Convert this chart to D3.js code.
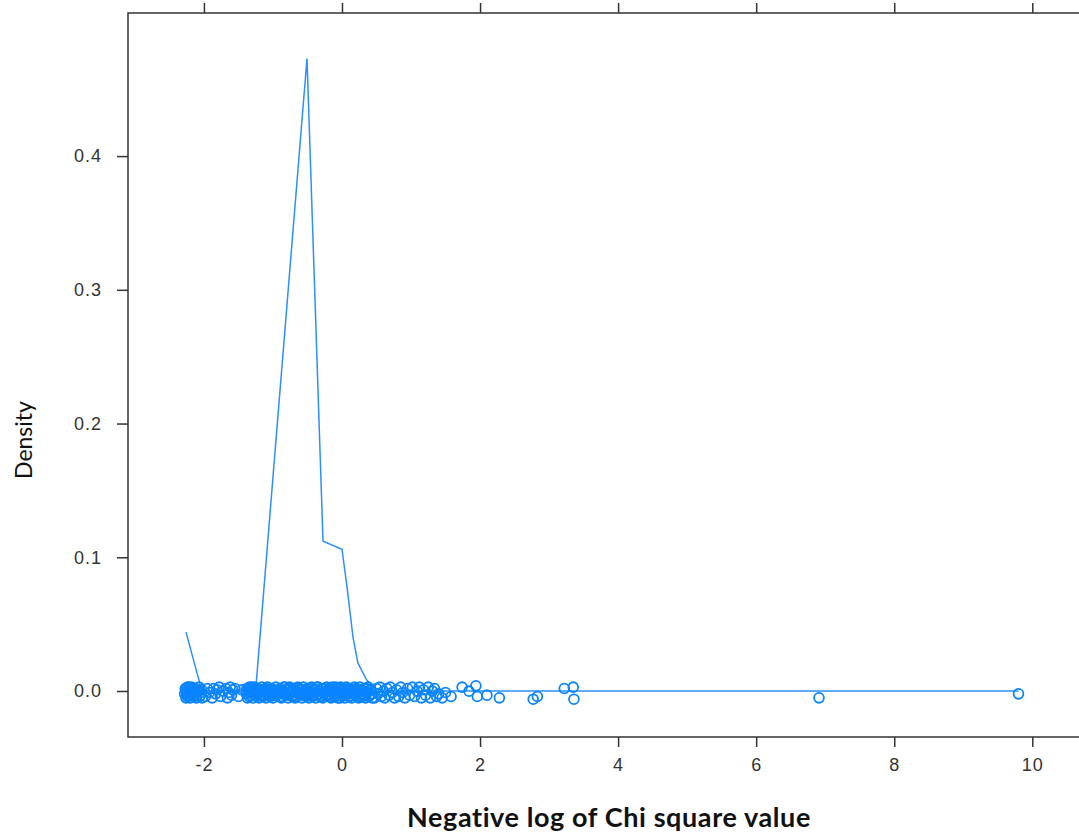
<!DOCTYPE html>
<html>
  <head>
  <meta charset="utf-8">
  <title>Density</title>
  <style>
    body, html {
      margin: 0;
      padding: 0;
      background: #fff;
    }
    svg { display: block; }
  </style>
  </head>
  <body>

  <svg id="svg" width="1079" height="834"></svg>

  <script src="https://d3js.org/d3.v7.min.js"></script>
  <script>
    // density curve
    const densX = [-2.26, -2.04, -1.99, -1.25, -0.507, -0.275, 0.0, 0.072, 0.16, 0.23, 0.36, 0.49, 0.62, 9.80]
    const densY = [0.044, 0.002, 0.0, 0.001, 0.473, 0.112, 0.106, 0.078, 0.040, 0.021, 0.008, 0.002, 0.0, 0.0]

    // jittered raw values along the bottom
    const pointX = [
      -2.27, -2.26, -2.25, -2.24, -2.23, -2.21, -2.20, -2.18, -2.17, -2.15, -2.13, -2.11, -2.09, -2.07, -2.05, -2.03,
      -1.98, -1.95, -1.92, -1.88, -1.86, -1.83, -1.81, -1.78, -1.76, -1.72, -1.68, -1.66, -1.64, -1.62, -1.60, -1.58, -1.55, -1.50, -1.45,
      -1.38, -1.37, -1.35, -1.34, -1.32, -1.30, -1.29, -1.27, -1.25, -1.23, -1.22, -1.20, -1.18, -1.16, -1.14, -1.12, -1.10, -1.08, -1.06, -1.04, -1.02, -1.00, -0.98, -0.96, -0.95,
      -0.90, -0.88, -0.86, -0.84, -0.82, -0.80, -0.78, -0.76, -0.74, -0.72, -0.70, -0.68, -0.66, -0.64, -0.62, -0.60, -0.58,
      -0.56, -0.54, -0.52, -0.50, -0.48, -0.46, -0.44, -0.42, -0.40, -0.38, -0.36, -0.34, -0.32, -0.30, -0.28, -0.26, -0.24,
      -0.22, -0.20, -0.18, -0.16, -0.14, -0.12, -0.10, -0.08, -0.06, -0.04, -0.02, 0.00, 0.02, 0.04, 0.06, 0.08, 0.10,
      0.12, 0.14, 0.16, 0.18, 0.20, 0.22, 0.24, 0.26, 0.28, 0.30, 0.32, 0.34, 0.36, 0.38, 0.40, 0.42, 0.44,
      0.47, 0.50, 0.52, 0.55, 0.57, 0.60, 0.62, 0.65, 0.68, 0.70, 0.73, 0.76, 0.79, 0.82, 0.85, 0.88, 0.91, 0.95,
      0.98, 1.02, 1.05, 1.09, 1.12, 1.15, 1.18, 1.21, 1.25, 1.28, 1.31, 1.34, 1.37, 1.40, 1.45, 1.50, 1.58,
      1.74, 1.84, 1.94, 1.96, 2.10, 2.28, 2.77, 2.83, 3.22, 3.35, 3.36, 6.91, 9.80
    ]
    const pointJitter = [
      0.003, -0.004, 0.000, 0.004, -0.002, 0.002, -0.004, 0.004, 0.000, -0.003, 0.003, -0.004, 0.001, 0.004, -0.002, 0.002,
      -0.003, 0.003, 0.000, -0.004, 0.003, -0.001, 0.002, 0.004, -0.003, 0.001, 0.003, -0.004, 0.000, 0.004, -0.002, 0.002, 0.003, -0.003, 0.002,
      0.003, -0.004, 0.000, 0.004, -0.002, 0.002, -0.004, 0.004, 0.000, -0.003, 0.003, -0.004, 0.001, 0.004, -0.002, 0.002, -0.004, 0.004, 0.000, -0.003, 0.003, -0.004, 0.001, 0.004, -0.002,
      0.003, -0.004, 0.000, 0.004, -0.002, 0.002, -0.004, 0.004, 0.001, -0.003, 0.003, -0.004, 0.000, 0.004, -0.002, 0.002, -0.004,
      0.004, 0.001, -0.003, 0.003, -0.004, 0.000, 0.004, -0.002, 0.002, -0.004, 0.004, 0.001, -0.003, 0.003, -0.004, 0.000, -0.002,
      0.004, -0.002, 0.002, -0.004, 0.004, 0.001, -0.003, 0.003, -0.004, 0.000, 0.004, -0.002, 0.002, -0.004, 0.004, 0.001, -0.003,
      0.003, -0.004, 0.000, 0.004, -0.002, 0.002, -0.004, 0.004, 0.001, -0.003, 0.003, -0.004, 0.000, 0.004, -0.002, 0.002, -0.004,
      -0.004, 0.003, -0.001, 0.004, -0.003, 0.001, -0.004, 0.003, -0.002, 0.004, 0.000, -0.004, 0.002, -0.003, 0.004, 0.000, -0.004, 0.003,
      -0.002, 0.004, -0.003, 0.001, 0.004, -0.004, 0.002, -0.002, 0.004, -0.004, 0.001, 0.003, -0.003, -0.001, -0.004, 0.000, -0.003,
      0.004, 0.001, 0.005, -0.003, -0.002, -0.004, -0.005, -0.003, 0.003, 0.004, -0.005, -0.004, -0.001
    ]

    // more values packed inside the three dense clusters
    const fillX = [
      -2.28, -2.265, -2.245, -2.235, -2.215, -2.195, -2.185, -2.165, -2.145, -2.125, -2.105, -2.085, -2.065, -2.045, -2.025,
      -1.385, -1.365, -1.345, -1.325, -1.305, -1.285, -1.265, -1.245, -1.225, -1.205, -1.185, -1.165, -1.145, -1.125, -1.105, -1.085, -1.065, -1.045, -1.025, -1.005, -0.985, -0.965, -0.945,
      -0.91, -0.89, -0.87, -0.85, -0.83, -0.81, -0.79, -0.77, -0.75, -0.73, -0.71, -0.69, -0.67, -0.65, -0.63, -0.61, -0.59,
      -0.57, -0.55, -0.53, -0.51, -0.49, -0.47, -0.45, -0.43, -0.41, -0.39, -0.37, -0.35, -0.33, -0.31, -0.29, -0.27, -0.25,
      -0.23, -0.21, -0.19, -0.17, -0.15, -0.13, -0.11, -0.09, -0.07, -0.05, -0.03, -0.01, 0.01, 0.03, 0.05, 0.07, 0.09,
      0.11, 0.13, 0.15, 0.17, 0.19, 0.21, 0.23, 0.25, 0.27, 0.29, 0.31, 0.33, 0.35, 0.37, 0.39, 0.41, 0.43
    ]
    const fillJitter = [
      -0.001, 0.002, -0.003, 0.001, 0.004, -0.001, 0.002, -0.002, 0.003, 0.000, -0.002, 0.002, -0.003, 0.000, -0.004,
      -0.001, 0.002, -0.003, 0.001, 0.004, -0.001, 0.002, -0.002, 0.003, 0.000, -0.002, 0.002, -0.003, 0.001, 0.003, -0.001, 0.002, -0.002, 0.000, 0.002, -0.002, -0.001, 0.001,
      -0.001, 0.002, -0.003, 0.001, 0.004, -0.001, 0.002, -0.002, 0.003, 0.000, -0.002, 0.002, -0.003, 0.001, 0.003, -0.001, 0.002,
      -0.002, 0.000, 0.002, -0.002, -0.001, 0.001, 0.003, -0.003, 0.000, 0.002, -0.002, 0.004, -0.001, 0.001, -0.003, 0.003, 0.000,
      -0.002, 0.001, 0.003, -0.003, 0.000, 0.002, -0.001, 0.004, -0.002, 0.001, -0.004, 0.003, 0.000, -0.002, 0.002, -0.001, 0.003,
      -0.003, 0.001, -0.001, 0.002, -0.002, 0.003, 0.000, -0.003, 0.002, -0.001, 0.001, -0.002, 0.003, 0.000, -0.003, 0.002, -0.001
    ]

    const xTicks = [-2, 0, 2, 4, 6, 8, 10]
    const yTicks = [0, 0.1, 0.2, 0.3, 0.4]

    const margin = { top: 13, right: -3, bottom: 97, left: 128 }
    const width = 1079 - (margin.left + margin.right)
    const height = 834 - (margin.top + margin.bottom)

    const xscale = d3.scaleLinear()
      .domain([-3.10, 10.72])
      .range([margin.left, margin.left + width])

    const yscale = d3.scaleLinear()
      .domain([-0.0344, 0.507])
      .range([margin.top + height, margin.top])

    const svg = d3.select('#svg')
    const blue = '#0a84ff'
    const lineBlue = '#2b90ff'
    const axisCol = '#333'

    // panel box
    svg.append('rect')
      .attr('x', margin.left)
      .attr('y', margin.top)
      .attr('width', width)
      .attr('height', height)
      .attr('fill', 'none')
      .attr('stroke', axisCol)
      .attr('stroke-width', 1.5)

    const tickStyle = g => {
      g.select('.domain').remove()
      g.selectAll('.tick line').attr('stroke', axisCol).attr('stroke-width', 1.5)
      g.selectAll('.tick text')
        .attr('fill', '#333')
        .style('font-family', '"Liberation Sans", Arial, sans-serif')
        .style('font-size', '18px')
        .style('letter-spacing', '1px')
    }

    svg.append('g')
      .attr('transform', `translate(0, ${margin.top + height})`)
      .call(d3.axisBottom(xscale).tickValues(xTicks).tickSize(10).tickPadding(11).tickFormat(d => String(d)))
      .call(tickStyle)

    svg.append('g')
      .attr('transform', `translate(0, ${margin.top})`)
      .call(d3.axisTop(xscale).tickValues(xTicks).tickSize(10).tickFormat(''))
      .call(tickStyle)

    svg.append('g')
      .attr('transform', `translate(${margin.left}, 0)`)
      .call(d3.axisLeft(yscale).tickValues(yTicks).tickSize(11).tickPadding(15).tickFormat(d3.format('.1f')))
      .call(tickStyle)

    // density line
    const line = d3.line()
      .x(d => xscale(d[0]))
      .y(d => yscale(d[1]))

    svg.append('path')
      .datum(d3.zip(densX, densY))
      .attr('d', line)
      .attr('fill', 'none')
      .attr('stroke', lineBlue)
      .attr('stroke-width', 1.5)

    // points
    const pts = d3.zip(pointX, pointJitter).concat(d3.zip(fillX, fillJitter))
    svg.append('g')
      .attr('transform', 'translate(0, 1.5)')
      .selectAll('circle')
      .data(pts)
      .enter()
      .append('circle')
      .attr('cx', d => xscale(d[0]))
      .attr('cy', d => yscale(d[1]))
      .attr('r', 4.9)
      .attr('fill', 'none')
      .attr('stroke', blue)
      .attr('stroke-width', 1.8)

    // axis titles
    svg.append('text')
      .attr('x', 609)
      .attr('y', 827)
      .attr('text-anchor', 'middle')
      .style('font-family', 'Lato, "Open Sans", sans-serif')
      .style('font-weight', 'bold')
      .style('font-size', '27px')
      .style('letter-spacing', '0.6px')
      .attr('fill', '#111')
      .text('Negative log of Chi square value')

    svg.append('text')
      .attr('transform', 'translate(32, 440) rotate(-90)')
      .attr('text-anchor', 'middle')
      .style('font-family', 'Lato, "Open Sans", sans-serif')
      .style('font-size', '23px')
      .attr('fill', '#111')
      .text('Density')
  </script>
  </body>
</html>
